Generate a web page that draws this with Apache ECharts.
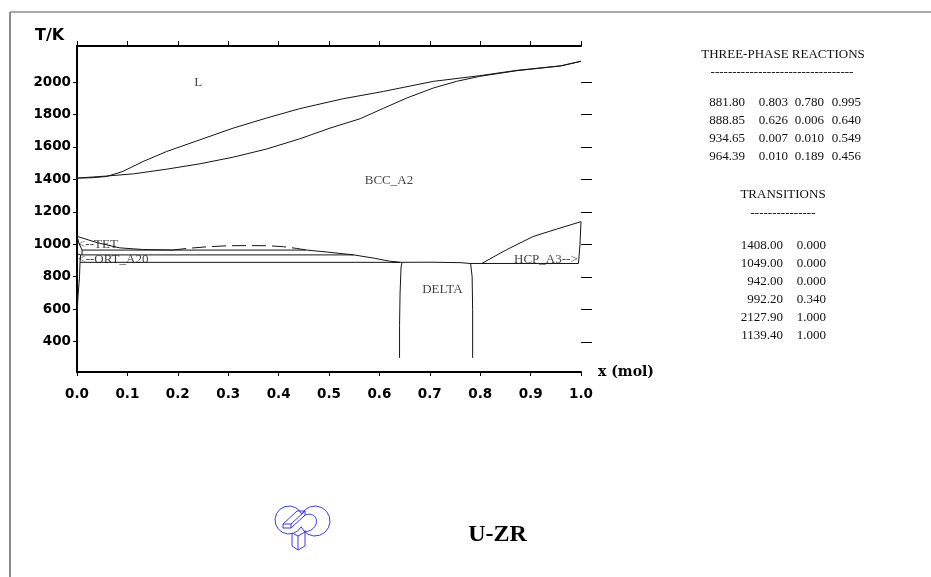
<!DOCTYPE html>
<html>
<head>
<meta charset="utf-8">
<title>U-ZR phase diagram</title>
<script src="https://cdn.jsdelivr.net/npm/echarts@6/dist/echarts.min.js"></script>
<style>
  html, body { margin: 0; padding: 0; background: #ffffff; }
  #chart { width: 931px; height: 577px; }
</style>
</head>
<body>
<div id="chart"></div>
<script>
// ---- Phase boundaries, [x(Zr) mole fraction, T in K] ----
const liquidus = [[0, 1408], [0.03, 1410], [0.059, 1418], [0.091, 1449], [0.131, 1510], [0.178, 1572],
  [0.244, 1644], [0.310, 1716], [0.376, 1778], [0.442, 1836], [0.528, 1897], [0.608, 1942],
  [0.707, 2004], [0.799, 2039], [0.873, 2072], [0.960, 2100], [1.0, 2127.9]];
const solidus = [[0, 1408], [0.056, 1420], [0.112, 1434], [0.178, 1463], [0.244, 1496], [0.310, 1537],
  [0.376, 1587], [0.442, 1650], [0.502, 1716], [0.562, 1774], [0.608, 1838], [0.654, 1901],
  [0.707, 1963], [0.753, 2004], [0.799, 2035], [0.873, 2070], [0.960, 2099], [1.0, 2127.9]];
const bccTetBoundary = [[0, 1049], [0.04, 1010], [0.085, 978], [0.13, 968], [0.189, 964.39]];
const tetBoundary = [[0, 1049], [0.004, 1005], [0.010, 964.39], [0.010, 934.65]];
const ortTetBoundary = [[0, 942], [0.007, 934.65]];
const ortSolvus = [[0.007, 934.65], [0.006, 888.85], [0.005, 800], [0.004, 760], [0.002, 680], [0.001, 620], [0, 575]];
const bccGap = [[0.189, 964.39], [0.22, 975], [0.26, 985], [0.30, 991], [0.34, 992.2], [0.38, 991],
  [0.41, 985], [0.435, 975], [0.456, 964.39]];
const bccDeltaBoundary = [[0.456, 964.39], [0.50, 951], [0.549, 934.65], [0.59, 914], [0.62, 896], [0.640, 888.85]];
const iso964 = [[0.010, 964.39], [0.456, 964.39]];
const iso934 = [[0.007, 934.65], [0.549, 934.65]];
const iso888 = [[0.006, 888.85], [0.640, 888.85]];
const iso881 = [[0.780, 881.8], [0.995, 881.8]];
const deltaTop = [[0.626, 888.85], [0.70, 889.6], [0.76, 887], [0.780, 881.8]];
const deltaLeft = [[0.645, 888.85], [0.643, 860], [0.641, 700], [0.640, 500], [0.640, 300]];
const deltaRight = [[0.781, 881.8], [0.784, 800], [0.785, 600], [0.785, 300]];
const bccHcpBoundary = [[0.803, 881.8], [0.852, 966], [0.905, 1048], [0.951, 1093], [1.0, 1139.4]];
const hcpSolvus = [[0.995, 881.8], [0.998, 1000], [1.0, 1139.4]];

// ---- Phase field names and their anchor points ----
const phaseNames = ['L', 'BCC_A2', 'DELTA', 'HCP_A3-->', '<--TET', '<--ORT_A20'];
const phaseX = [0.2407, 0.619, 0.725, 0.9935, 0.002, 0.0026];
const phaseT = [1996, 1393, 723, 908, 997, 908];

// ---- Axis ticks ----
const tempTicks = [400, 600, 800, 1000, 1200, 1400, 1600, 1800, 2000];

// ---- Tables printed beside the diagram ----
const reactionTemps = [881.80, 888.85, 934.65, 964.39];
const reactionPhase1 = [0.803, 0.626, 0.007, 0.010];
const reactionPhase2 = [0.780, 0.006, 0.010, 0.189];
const reactionPhase3 = [0.995, 0.640, 0.549, 0.456];
const transitionTemps = [1408.00, 1049.00, 942.00, 992.20, 2127.90, 1139.40];
const transitionComps = [0.000, 0.000, 0.000, 0.340, 1.000, 1.000];

const boundaries = [liquidus, solidus, bccTetBoundary, tetBoundary, ortTetBoundary, ortSolvus,
  bccGap, bccDeltaBoundary, iso964, iso934, iso888, iso881, deltaTop, deltaLeft, deltaRight,
  bccHcpBoundary, hcpSolvus];

const chart = echarts.init(document.getElementById('chart'), null, { renderer: 'canvas' });

const tickFont = { fontFamily: 'DejaVu Sans', fontWeight: 'bold', fontSize: 13.5, color: '#000' };
const serif = 'Liberation Serif';

const lineSeries = boundaries.map(function (pts) {
  return {
    type: 'line',
    data: pts,
    showSymbol: false,
    symbol: 'none',
    silent: true,
    lineStyle: {
      color: '#151515',
      width: 1,
      type: pts === bccGap ? [14, 6] : 'solid'
    },
    z: 2
  };
});

const labelSeries = {
  type: 'scatter',
  symbolSize: 0,
  silent: true,
  data: phaseNames.map(function (n, i) {
    const align = n.charAt(0) === '<' ? 'left' : (n.charAt(n.length - 1) === '>' ? 'right' : 'center');
    return {
      name: n,
      value: [phaseX[i], phaseT[i]],
      label: { align: align }
    };
  }),
  label: {
    show: true,
    position: [0, 0],
    formatter: '{b}',
    verticalAlign: 'middle',
    fontFamily: serif,
    fontSize: 13,
    color: '#111'
  },
  z: 3
};

// Outward tick marks along the right-hand frame of the plot
const rightTicks = {
  type: 'custom',
  coordinateSystem: 'cartesian2d',
  clip: false,
  silent: true,
  data: tempTicks.map(function (t) { return [1, t]; }),
  renderItem: function (params, api) {
    const p = api.coord([api.value(0), api.value(1)]);
    const y = Math.round(p[1]) + 0.5;
    return {
      type: 'line',
      shape: { x1: p[0], y1: y, x2: p[0] + 11, y2: y },
      style: { stroke: '#000', lineWidth: 1 }
    };
  },
  z: 4
};

// ---- Side tables as text elements ----
const panel = [];
function addText(txt, x, y, align, font) {
  panel.push({
    type: 'text', x: x, y: y, silent: true,
    style: { text: txt, font: font || ('13px "' + serif + '"'), fill: '#111', align: align, verticalAlign: 'middle' }
  });
}
addText('THREE-PHASE REACTIONS', 783, 55, 'center');
addText('-'.repeat(33), 782, 73, 'center');
reactionTemps.forEach(function (t, i) {
  const y = 103 + 18 * i;
  addText(t.toFixed(2), 745, y, 'right');
  addText(reactionPhase1[i].toFixed(3), 788, y, 'right');
  addText(reactionPhase2[i].toFixed(3), 824, y, 'right');
  addText(reactionPhase3[i].toFixed(3), 861, y, 'right');
});
addText('TRANSITIONS', 783, 195, 'center');
addText('-'.repeat(15), 783, 214, 'center');
transitionTemps.forEach(function (t, i) {
  const y = 246 + 18 * i;
  addText(t.toFixed(2), 783, y, 'right');
  addText(transitionComps[i].toFixed(3), 826, y, 'right');
});

// ---- Logo drawn from primitive outlines ----
const logoStroke = { fill: 'none', stroke: '#3b3bf2', lineWidth: 1 };
const logo = [
  { type: 'arc', silent: true, shape: { cx: 289, cy: 520, r: 14, startAngle: 0.49, endAngle: 5.83, clockwise: true }, style: logoStroke },
  { type: 'arc', silent: true, shape: { cx: 315, cy: 521, r: 15, startAngle: 3.61, endAngle: 9.03, clockwise: true }, style: logoStroke },
  { type: 'polygon', silent: true, shape: { points: [[283, 524], [297, 511], [305, 511], [291, 524]] }, style: logoStroke },
  { type: 'polyline', silent: true, shape: { points: [[283, 524], [283, 528], [291, 528], [305, 515], [305, 511]] }, style: logoStroke },
  { type: 'line', silent: true, shape: { x1: 291, y1: 524, x2: 291, y2: 528 }, style: logoStroke },
  { type: 'bezierCurve', silent: true, shape: { x1: 305, y1: 515, cpx1: 320, cpy1: 510, cpx2: 321, cpy2: 531, x2: 304, y2: 532 }, style: logoStroke },
  { type: 'polyline', silent: true, shape: { points: [[292, 533], [292, 546], [298, 550], [305, 546], [305, 530]] }, style: logoStroke },
  { type: 'polyline', silent: true, shape: { points: [[292, 533], [298, 536], [305, 532]] }, style: logoStroke },
  { type: 'line', silent: true, shape: { x1: 298, y1: 536, x2: 298, y2: 550 }, style: logoStroke }
];

const option = {
  animation: false,
  backgroundColor: '#ffffff',
  grid: { left: 77, top: 46, width: 504, height: 326, containLabel: false },
  xAxis: [
    {
      type: 'value', position: 'bottom', min: 0, max: 1, interval: 0.1,
      axisLine: { show: true, lineStyle: { color: '#000', width: 2 } },
      axisTick: { show: true, inside: false, length: 4, lineStyle: { color: '#000', width: 1 } },
      axisLabel: Object.assign({ margin: 15, formatter: function (v) { return v.toFixed(1); } }, tickFont),
      splitLine: { show: false },
      name: 'x (mol)', nameLocation: 'end', nameGap: 17,
      nameTextStyle: { fontFamily: 'DejaVu Serif', fontWeight: 'bold', fontSize: 14, color: '#000', verticalAlign: 'middle' }
    },
    {
      type: 'value', position: 'top', min: 0, max: 1, interval: 0.1,
      axisLine: { show: true, lineStyle: { color: '#000', width: 2 } },
      axisTick: { show: true, inside: false, length: 5, lineStyle: { color: '#000', width: 1 } },
      axisLabel: { show: false },
      splitLine: { show: false }
    }
  ],
  yAxis: [
    {
      type: 'value', position: 'left', min: 213, max: 2222,
      axisLine: { show: true, lineStyle: { color: '#000', width: 2 } },
      axisTick: { show: true, inside: false, length: 4, customValues: tempTicks, lineStyle: { color: '#000', width: 1 } },
      axisLabel: Object.assign({ margin: 6, customValues: tempTicks, formatter: function (v) { return String(v); } }, tickFont),
      splitLine: { show: false }
    },
    {
      type: 'value', position: 'right', min: 213, max: 2222,
      axisLine: { show: true, lineStyle: { color: '#000', width: 2 } },
      axisTick: { show: false },
      axisLabel: { show: false },
      splitLine: { show: false }
    }
  ],
  series: lineSeries.concat([labelSeries, rightTicks]),
  graphic: [
    // window frame
    { type: 'line', silent: true, shape: { x1: 10, y1: 12, x2: 931, y2: 12 }, style: { stroke: '#8c8c8c', lineWidth: 1.5 } },
    { type: 'line', silent: true, shape: { x1: 10, y1: 12, x2: 10, y2: 577 }, style: { stroke: '#8c8c8c', lineWidth: 2 } },
    // temperature axis caption
    { type: 'text', silent: true, x: 35, y: 36, style: { text: 'T/K', font: 'bold 16px "DejaVu Sans"', fill: '#000', verticalAlign: 'middle' } },
    // system name
    { type: 'text', silent: true, x: 497.5, y: 535, style: { text: 'U-ZR', font: 'bold 24px "Liberation Serif"', fill: '#000', align: 'center', verticalAlign: 'middle' } }
  ].concat(logo, panel)
};

chart.setOption(option);
</script>
</body>
</html>
